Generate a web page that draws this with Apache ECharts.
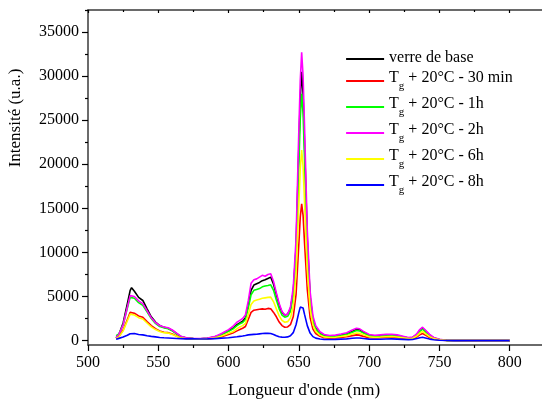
<!DOCTYPE html>
<html>
<head>
<meta charset="utf-8">
<script src="https://cdn.jsdelivr.net/npm/echarts@6/dist/echarts.min.js"></script>
<style>
  html, body { margin: 0; padding: 0; background: #fff; }
  #chart { width: 542px; height: 403px; }
</style>
</head>
<body>
<div id="chart"></div>
<script>
// Emission spectra: wavelength (nm) and intensity (a.u.) for each heat treatment
const wavelength = [520, 522, 525, 528, 530, 531, 533, 536, 539, 542, 545, 548, 551, 554, 557, 560, 563, 566, 570, 575, 580, 585, 590, 595, 600, 603, 606, 608, 610, 612, 614, 616, 618, 620, 622, 624, 626, 628, 630, 632, 634, 636, 638, 640, 642, 644, 646, 648, 650, 651, 652, 653, 654, 656, 658, 660, 662, 665, 668, 672, 676, 680, 684, 688, 691, 693, 696, 700, 704, 708, 712, 716, 720, 724, 728, 731, 734, 736, 738, 740, 743, 746, 750, 755, 760, 770, 780, 790, 800];

const verreDeBase = [300, 700, 2000, 4200, 5700, 6000, 5600, 4900, 4550, 3600, 2700, 2100, 1700, 1500, 1400, 1150, 800, 450, 300, 220, 200, 250, 400, 700, 1100, 1400, 1800, 2000, 2200, 2600, 4000, 5700, 6300, 6450, 6600, 6800, 6900, 7050, 7200, 6400, 5200, 4000, 3200, 2900, 3000, 3600, 5500, 10500, 22000, 27500, 30500, 28000, 22500, 11500, 5000, 2400, 1400, 800, 550, 450, 500, 600, 750, 1050, 1300, 1250, 950, 600, 500, 550, 600, 620, 550, 430, 300, 350, 700, 1150, 1400, 1100, 600, 300, 120, 30, 10, 0, 0, 0, 0];

const tg30min = [250, 450, 1200, 2400, 3200, 3330, 3100, 2800, 2650, 2150, 1700, 1350, 1100, 950, 900, 750, 520, 320, 220, 170, 160, 190, 280, 450, 700, 850, 1100, 1250, 1400, 1600, 2400, 3200, 3450, 3500, 3550, 3600, 3550, 3650, 3600, 3200, 2700, 2100, 1700, 1510, 1550, 1800, 2700, 5200, 11000, 14000, 15500, 14200, 11200, 5800, 2600, 1300, 800, 480, 330, 280, 300, 360, 430, 560, 650, 620, 480, 330, 290, 320, 360, 380, 330, 260, 190, 220, 430, 650, 800, 620, 340, 170, 70, 20, 5, 0, 0, 0, 0];

const tg1h = [550, 750, 1800, 3700, 4900, 5100, 4800, 4300, 4000, 3250, 2500, 1950, 1600, 1450, 1350, 1100, 780, 450, 300, 220, 200, 250, 400, 680, 1050, 1300, 1700, 1900, 2050, 2400, 3700, 5200, 5700, 5800, 5900, 6100, 6200, 6250, 6330, 5700, 4600, 3600, 2900, 2650, 2750, 3300, 5100, 9800, 20000, 25200, 28000, 25800, 20800, 10600, 4700, 2300, 1350, 780, 530, 440, 480, 580, 700, 950, 1140, 1100, 850, 560, 470, 510, 560, 580, 520, 400, 290, 330, 660, 1050, 1300, 1000, 560, 280, 110, 30, 10, 0, 0, 0, 0];

const tg2h = [350, 700, 1800, 3800, 5100, 5300, 5000, 4500, 4200, 3400, 2600, 2050, 1700, 1550, 1450, 1200, 850, 500, 330, 240, 220, 280, 450, 800, 1250, 1600, 2100, 2300, 2500, 2900, 4500, 6500, 6900, 7000, 7200, 7400, 7300, 7500, 7580, 6700, 5400, 4200, 3300, 2900, 3000, 3800, 6000, 11500, 24000, 29500, 32700, 30000, 24500, 12500, 5600, 2800, 1700, 1000, 700, 580, 620, 750, 900, 1200, 1400, 1350, 1050, 700, 600, 650, 700, 720, 650, 500, 350, 400, 800, 1250, 1520, 1200, 700, 350, 150, 40, 10, 0, 0, 0, 0];

const tg6h = [230, 420, 1100, 2250, 3000, 3100, 2900, 2600, 2450, 2000, 1550, 1250, 1030, 900, 850, 700, 500, 300, 210, 160, 150, 190, 300, 520, 820, 1000, 1350, 1550, 1700, 1950, 2950, 4100, 4500, 4600, 4700, 4800, 4850, 4900, 4930, 4400, 3600, 2800, 2300, 2080, 2150, 2550, 3900, 7500, 15500, 19500, 21600, 19800, 15800, 8000, 3600, 1800, 1050, 620, 420, 350, 380, 460, 560, 750, 870, 840, 650, 430, 370, 400, 440, 460, 410, 320, 230, 270, 530, 850, 1050, 800, 450, 220, 90, 25, 5, 0, 0, 0, 0];

const tg8h = [150, 250, 400, 600, 780, 830, 800, 700, 650, 550, 480, 420, 350, 320, 300, 270, 240, 220, 200, 190, 180, 190, 220, 280, 330, 380, 430, 480, 520, 580, 650, 680, 700, 720, 760, 800, 820, 830, 800, 700, 550, 430, 390, 380, 420, 550, 900, 1800, 3200, 3800, 4000, 3700, 3000, 1700, 850, 450, 280, 180, 140, 130, 140, 170, 200, 260, 300, 290, 230, 170, 150, 160, 180, 190, 170, 140, 110, 130, 230, 330, 380, 300, 170, 90, 40, 10, 0, 0, 0, 0, 0];

const seriesNames = ['verre de base', 'Tg + 20°C - 30 min', 'Tg + 20°C - 1h', 'Tg + 20°C - 2h', 'Tg + 20°C - 6h', 'Tg + 20°C - 8h'];
const seriesValues = [verreDeBase, tg30min, tg1h, tg2h, tg6h, tg8h];
const seriesColors = ['#000000', '#ff0000', '#00ff00', '#ff00ff', '#ffff00', '#0000ff'];

const yMajorTicks = [0, 5000, 10000, 15000, 20000, 25000, 30000, 35000];
const yMinorTicks = [2500, 7500, 12500, 17500, 22500, 27500, 32500, 37500];

const FONT = 'Liberation Serif';
const AXIS_COLOR = '#3a3a3a';

const chart = echarts.init(document.getElementById('chart'), null, { renderer: 'canvas' });

const series = seriesNames.map((name, i) => ({
  name: name,
  type: 'line',
  xAxisIndex: 0,
  yAxisIndex: 0,
  symbol: 'none',
  showSymbol: false,
  smooth: false,
  lineStyle: { color: seriesColors[i], width: 1.6 },
  itemStyle: { color: seriesColors[i] },
  data: wavelength.map((w, k) => [w, seriesValues[i][k]]),
  z: 2 + i
}));

chart.setOption({
  animation: false,
  backgroundColor: '#ffffff',
  grid: { left: 88, top: 10, bottom: 58, right: -38, containLabel: false, outerBoundsMode: 'none' },
  legend: {
    show: true,
    orient: 'vertical',
    left: 345,
    top: 50,
    padding: 0,
    itemWidth: 38,
    itemHeight: 10,
    itemGap: 4,
    itemStyle: { opacity: 0 },
    lineStyle: { width: 2.2 },
    data: seriesNames,
    formatter: function (name) {
      if (name.indexOf('Tg') === 0) {
        return '{m|T}{s|g}{m|' + name.slice(2) + '}';
      }
      return '{m|' + name + '}';
    },
    textStyle: {
      fontFamily: FONT,
      fontSize: 16,
      color: '#000',
      rich: {
        m: { fontFamily: FONT, fontSize: 16, color: '#000', lineHeight: 18, verticalAlign: 'top' },
        s: { fontFamily: FONT, fontSize: 11, color: '#000', lineHeight: 22, verticalAlign: 'bottom' }
      }
    }
  },
  xAxis: [
    {
      type: 'value',
      position: 'bottom',
      min: 500,
      max: 850,
      interval: 50,
      axisLine: { show: true, onZero: false, lineStyle: { color: AXIS_COLOR, width: 1.5 } },
      axisTick: { show: true, inside: false, length: 6, lineStyle: { color: '#000', width: 1.2 } },
      minorTick: { show: true, splitNumber: 2, length: 3, lineStyle: { color: '#000', width: 1.2 } },
      splitLine: { show: false },
      axisLabel: { fontFamily: FONT, fontSize: 16, color: '#000', margin: 10 },
      name: "Longueur d'onde (nm)",
      nameLocation: 'middle',
      nameGap: 37,
      nameTextStyle: { fontFamily: FONT, fontSize: 17, color: '#000', padding: [0, 60, 0, 0] }
    },
    {
      type: 'value',
      position: 'top',
      min: 500,
      max: 850,
      interval: 50,
      axisLine: { show: true, onZero: false, lineStyle: { color: AXIS_COLOR, width: 1.5 } },
      axisTick: { show: true, inside: true, length: 3, lineStyle: { color: '#000', width: 1.2 } },
      minorTick: { show: true, splitNumber: 2, length: 2, lineStyle: { color: '#000', width: 1.2 } },
      axisLabel: { show: false },
      splitLine: { show: false }
    }
  ],
  yAxis: [
    {
      type: 'value',
      position: 'left',
      min: -500,
      max: 37500,
      axisLine: { show: true, onZero: false, lineStyle: { color: AXIS_COLOR, width: 1.5 } },
      axisTick: { show: true, inside: false, length: 6, customValues: yMajorTicks, lineStyle: { color: '#000', width: 1.2 } },
      axisLabel: {
        fontFamily: FONT, fontSize: 16, color: '#000', margin: 9, customValues: yMajorTicks,
        formatter: function (v) { return String(v); }
      },
      splitLine: { show: false },
      name: 'Intensité (u.a.)',
      nameLocation: 'middle',
      nameRotate: 90,
      nameGap: 64,
      nameTextStyle: { fontFamily: FONT, fontSize: 17, color: '#000', padding: [0, 0, 0, 119] }
    },
    {
      type: 'value',
      position: 'left',
      min: -500,
      max: 37500,
      axisLine: { show: false },
      axisTick: { show: true, inside: false, length: 3, customValues: yMinorTicks, lineStyle: { color: '#000', width: 1.2 } },
      axisLabel: { show: false },
      splitLine: { show: false }
    }
  ],
  series: series
});
</script>
</body>
</html>
